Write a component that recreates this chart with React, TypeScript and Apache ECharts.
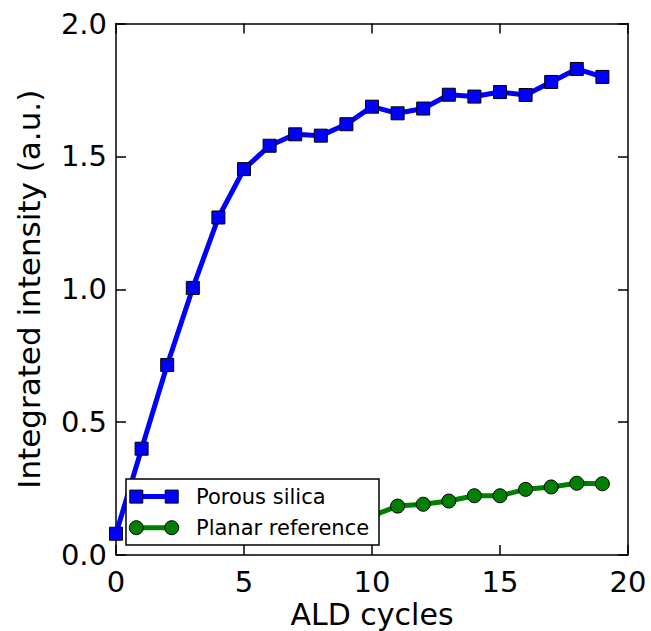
import React, { useEffect, useRef } from "react";
import * as echarts from "echarts";

const porousX = [0, 1, 2, 3, 4, 5, 6, 7, 8, 9, 10, 11, 12, 13, 14, 15, 16, 17, 18, 19];
const porousY = [0.08, 0.40, 0.715, 1.005, 1.27, 1.452, 1.540, 1.583, 1.578, 1.621, 1.687, 1.662, 1.680, 1.732, 1.725, 1.742, 1.731, 1.780, 1.829, 1.799];
const planarX = [10, 11, 12, 13, 14, 15, 16, 17, 18, 19];
const planarY = [0.147, 0.184, 0.191, 0.203, 0.223, 0.223, 0.247, 0.256, 0.270, 0.268];
const xTicks = [0, 5, 10, 15, 20];
const yTicks = [0.0, 0.5, 1.0, 1.5, 2.0];
const seriesNames = ["Porous silica", "Planar reference"];

const FONT = "DejaVu Sans";
const BLUE = "#0000ff";
const GREEN = "#008000";

export default function App() {
  const ref = useRef<HTMLDivElement>(null);
  useEffect(() => {
    document.body.style.margin = "0";
    const chart = echarts.init(ref.current!, null, { renderer: "svg" });
    const axisLine = { show: true, onZero: false, lineStyle: { color: "#000", width: 1.5 } };
    const tick = { show: true, inside: true, length: 10, lineStyle: { color: "#000", width: 1.5 } };
    const label = { color: "#000", fontFamily: FONT, fontSize: 29 };
    const xInterval = xTicks[1] - xTicks[0];
    const yInterval = yTicks[1] - yTicks[0];

    // legend drawn as graphic
    const lx = 126, ly = 479, lw = 253, lh = 66;
    const m1 = 136.3, m2 = 171.7, r1 = 496.6, r2 = 527.7, tx = 196;
    const Z = 100;
    const legendFont = `21px "${FONT}"`;
    const graphic: any[] = [
      { type: "rect", z: Z, shape: { x: lx, y: ly, width: lw, height: lh }, style: { fill: "#fff", stroke: "#000", lineWidth: 1.5 } },
      { type: "line", z: Z + 1, shape: { x1: m1, y1: r1, x2: m2, y2: r1 }, style: { stroke: BLUE, lineWidth: 5 } },
      { type: "rect", z: Z + 2, shape: { x: m1 - 6.5, y: r1 - 6.5, width: 13, height: 13 }, style: { fill: BLUE, stroke: "#000", lineWidth: 1 } },
      { type: "rect", z: Z + 2, shape: { x: m2 - 6.5, y: r1 - 6.5, width: 13, height: 13 }, style: { fill: BLUE, stroke: "#000", lineWidth: 1 } },
      { type: "text", z: Z + 2, x: tx, y: r1, style: { text: seriesNames[0], fill: "#000", font: legendFont, verticalAlign: "middle", align: "left" } },
      { type: "line", z: Z + 1, shape: { x1: m1, y1: r2, x2: m2, y2: r2 }, style: { stroke: GREEN, lineWidth: 5 } },
      { type: "circle", z: Z + 2, shape: { cx: m1, cy: r2, r: 7 }, style: { fill: GREEN, stroke: "#000", lineWidth: 1 } },
      { type: "circle", z: Z + 2, shape: { cx: m2, cy: r2, r: 7 }, style: { fill: GREEN, stroke: "#000", lineWidth: 1 } },
      { type: "text", z: Z + 2, x: tx, y: r2, style: { text: seriesNames[1], fill: "#000", font: legendFont, verticalAlign: "middle", align: "left" } },
    ];

    chart.setOption({
      animation: false,
      backgroundColor: "#fff",
      grid: { left: 116, right: 23, top: 23.5, bottom: 76, containLabel: false, outerBoundsMode: "none" },
      textStyle: { fontFamily: FONT },
      xAxis: [
        {
          type: "value", min: xTicks[0], max: xTicks[xTicks.length - 1], interval: xInterval,
          axisLine, axisTick: tick, splitLine: { show: false },
          axisLabel: { ...label, margin: 12 },
          name: "ALD cycles", nameLocation: "middle", nameGap: 44, nameMoveOverlap: false,
          nameTextStyle: { color: "#000", fontFamily: FONT, fontSize: 30, lineHeight: 30 },
        },
        {
          type: "value", position: "top", min: xTicks[0], max: xTicks[xTicks.length - 1], interval: xInterval,
          axisLine, axisTick: tick, splitLine: { show: false }, axisLabel: { show: false },
        },
      ],
      yAxis: [
        {
          type: "value", min: yTicks[0], max: yTicks[yTicks.length - 1], interval: yInterval,
          axisLine, axisTick: tick, splitLine: { show: false },
          axisLabel: { ...label, margin: 9, formatter: (v: number) => v.toFixed(1) },
          name: "Integrated intensity (a.u.)", nameLocation: "middle", nameGap: 72,
          nameTextStyle: { color: "#000", fontFamily: FONT, fontSize: 31 },
        },
        {
          type: "value", position: "right", min: yTicks[0], max: yTicks[yTicks.length - 1], interval: yInterval,
          axisLine, axisTick: tick, splitLine: { show: false }, axisLabel: { show: false },
        },
      ],
      series: [
        {
          name: seriesNames[0], type: "line", xAxisIndex: 0, yAxisIndex: 0,
          data: porousX.map((x, i) => [x, porousY[i]]),
          symbol: "rect", symbolSize: 13, clip: true,
          lineStyle: { color: BLUE, width: 5 },
          itemStyle: { color: BLUE, borderColor: "#000", borderWidth: 1 },
          z: 2,
        },
        {
          name: seriesNames[1], type: "line", xAxisIndex: 0, yAxisIndex: 0,
          data: planarX.map((x, i) => [x, planarY[i]]),
          symbol: "circle", symbolSize: 14, clip: true,
          lineStyle: { color: GREEN, width: 5 },
          itemStyle: { color: GREEN, borderColor: "#000", borderWidth: 1 },
          z: 3,
        },
      ],
      graphic,
    });
    return () => chart.dispose();
  }, []);
  return <div ref={ref} style={{ width: 651, height: 631 }} />;
}
